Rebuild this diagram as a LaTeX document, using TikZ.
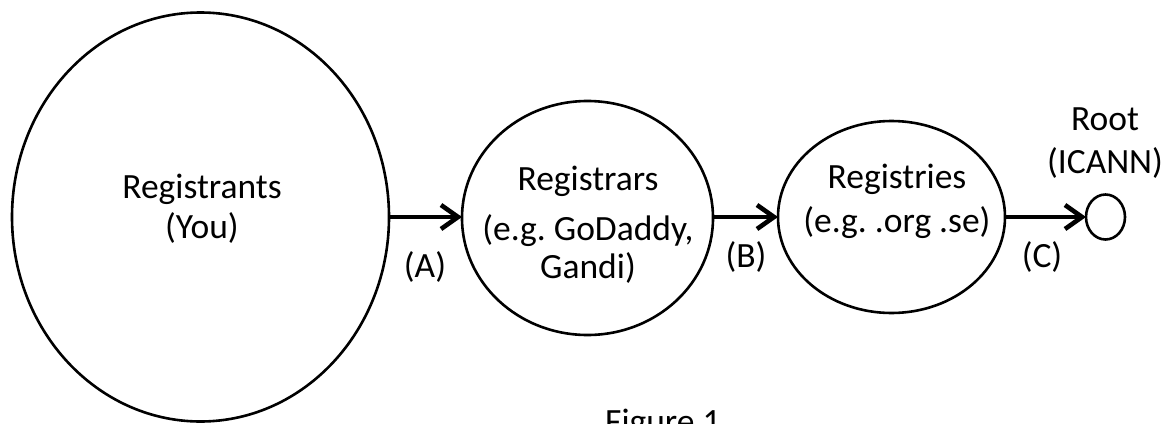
\documentclass[tikz,border=0pt]{standalone}
\usepackage{fontspec}
\setmainfont{Carlito}
\usetikzlibrary{arrows.meta}
\frenchspacing
\begin{document}
\begin{tikzpicture}[x=1pt,y=-1pt,
  lbl/.style={font=\fontsize{35.5}{40}\selectfont\frenchspacing,align=center,inner sep=0pt,anchor=base},
  flow/.style={line width=4.6pt,-{Straight Barb[length=17pt,width=24pt,line width=4.6pt]}}]
\useasboundingbox (0,0) rectangle (1172,423);
\clip (0,0) rectangle (1172,423);
\fill[white] (0,0) rectangle (1172,423);
\draw[line width=2.6pt] (200.5,217) ellipse [x radius=188.5, y radius=204.5];
\coordinate (rtsE) at (389,217);
\draw[line width=2.6pt] (587.5,218) ellipse [x radius=125.5, y radius=117];
\coordinate (rrW) at (462,217);
\coordinate (rrE) at (713,217);
\draw[line width=2.6pt] (891.5,217) ellipse [x radius=113.5, y radius=96];
\coordinate (ryW) at (778,217);
\coordinate (ryE) at (1005,217);
\draw[line width=2.6pt] (1105.5,217) ellipse [x radius=19.5, y radius=22.5];
\coordinate (rootW) at (1086,217);
\node[lbl] (tRts) at (202,238) {Registrants\\(You)};
\node[lbl] (tRr) at (588,278) {Registrars\\[10pt](e.g. GoDaddy,\\[-2pt]Gandi)};
\node[lbl] (tRy) at (897,232) {Registries\\[4pt](e.g. .org .se)};
\node[lbl] (tRoot) at (1105,173) {Root\\[3pt](ICANN)};
\node[lbl] (tA) at (425,277) {(A)};
\node[lbl] (tB) at (746,267) {(B)};
\node[lbl] (tC) at (1042,267) {(C)};
\node[lbl,anchor=base west] (fig) at (605,433) {Figure 1};
\draw[flow] (rtsE) -- (rrW);
\draw[flow] (rrE) -- (ryW);
\draw[flow] (ryE) -- (rootW);
\end{tikzpicture}
\end{document}
